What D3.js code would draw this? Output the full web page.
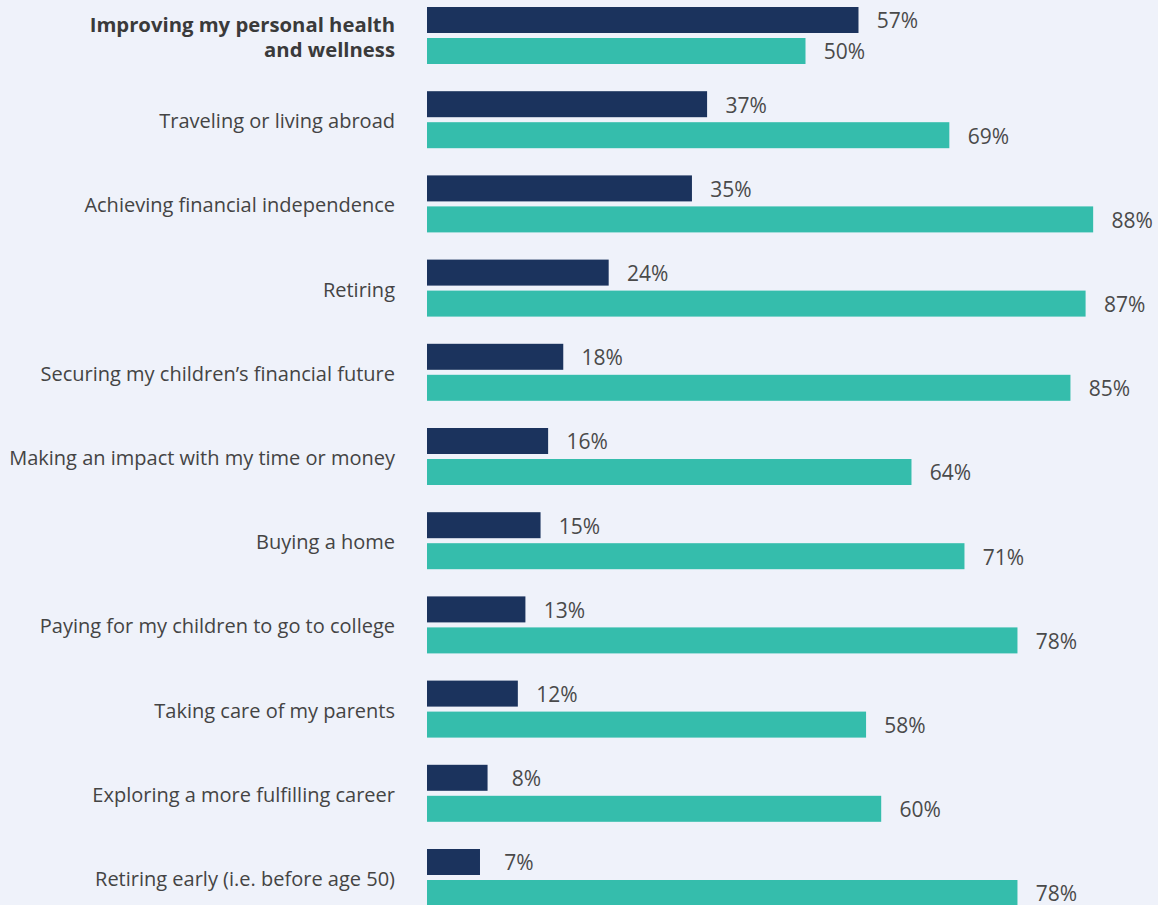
<!DOCTYPE html>
<html><head><meta charset="utf-8">
<script src="https://cdn.jsdelivr.net/npm/d3@7"></script>
<style>
html,body{margin:0;padding:0;background:#eff2fa;}
svg{display:block;font-family:"Open Sans","Noto Sans",sans-serif;}
</style></head>
<body><svg id="chart" width="1158" height="905"></svg>
<script>
const categories = [
  ["Improving my personal health","and wellness"],
  ["Traveling or living abroad"],
  ["Achieving financial independence"],
  ["Retiring"],
  ["Securing my children\u2019s financial future"],
  ["Making an impact with my time or money"],
  ["Buying a home"],
  ["Paying for my children to go to college"],
  ["Taking care of my parents"],
  ["Exploring a more fulfilling career"],
  ["Retiring early (i.e. before age 50)"]
];
const seriesA = [57,37,35,24,18,16,15,13,12,8,7];
const seriesB = [50,69,88,87,85,64,71,78,58,60,78];
const colors = ["#1b335d","#35bdac"];

const svg = d3.select("#chart");
const x = d3.scaleLinear().domain([0,100]).range([427,1184]);
const y = d3.scaleBand().domain(d3.range(categories.length)).range([2,928.2]).paddingInner(0).paddingOuter(0);
const barH = 26, gap = 5;
const rowTop = i => y(i) + 5;

const g = svg.append("g");
categories.forEach((lab,i)=>{
  const t = rowTop(i);
  const center = t + barH + gap/2 + 1.5;
  [seriesA[i], seriesB[i]].forEach((v,k)=>{
    const by = t + k*(barH+gap);
    g.append("rect").attr("x",x(0)).attr("y",by).attr("width",x(v)-x(0)).attr("height",barH).attr("fill",colors[k]);
    g.append("text").attr("x",x(v)+39).attr("y",by+barH/2+1).attr("dy","0.35em")
      .attr("text-anchor","middle").attr("font-size",21).attr("fill","#4a4a4a").text(v+"%");
  });
  const bold = i===0;
  lab.forEach((line,j)=>{
    g.append("text").attr("x",395).attr("y",center + (j-(lab.length-1)/2)*25).attr("dy","0.35em")
      .attr("text-anchor","end").attr("font-size",bold?20.3:20).attr("font-weight",bold?700:400)
      .attr("fill",bold?"#3a3a3a":"#444").text(line);
  });
});
</script></body></html>
